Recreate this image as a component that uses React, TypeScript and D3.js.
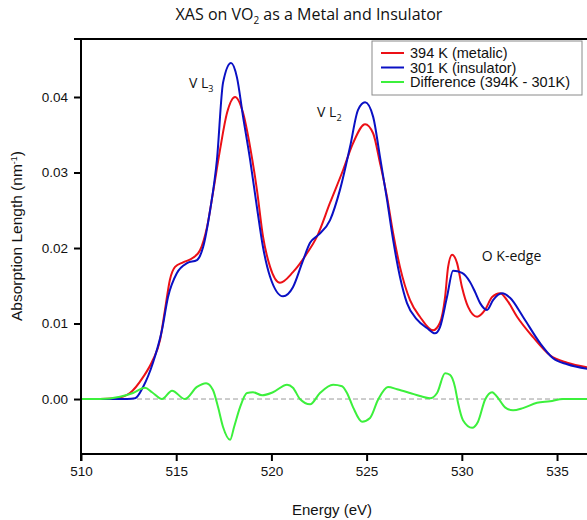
import React, { useEffect, useRef } from 'react';
import * as d3 from 'd3';

// values (energy in eV, absorption length in nm^-1)
const metalEnergy = [510, 511, 511.79, 512.57, 513.26, 513.78, 514.15, 514.41, 514.67, 514.94, 515.36, 515.88, 516.25, 516.62, 516.93, 517.3, 517.67, 518.09, 518.51, 518.88, 519.24, 519.56, 519.93, 520.45, 521.13, 521.87, 522.39, 523.08, 523.76, 524.29, 524.92, 525.34, 525.7, 526.07, 526.39, 526.75, 527.28, 527.8, 528.49, 528.85, 529.12, 529.28, 529.49, 529.75, 530.01, 530.33, 530.8, 531.22, 531.59, 532.01, 532.37, 532.9, 533.74, 534.63, 535.53, 536.58];
const metalAbs = [0, 0, 0.0001, 0.0008, 0.0029, 0.0052, 0.0078, 0.0118, 0.0158, 0.0175, 0.0181, 0.0187, 0.0197, 0.0228, 0.0273, 0.033, 0.0379, 0.04, 0.0379, 0.0334, 0.0277, 0.0215, 0.0175, 0.0154, 0.0168, 0.0193, 0.0215, 0.026, 0.0303, 0.0339, 0.0364, 0.0352, 0.0313, 0.0268, 0.022, 0.0175, 0.0131, 0.0109, 0.0091, 0.0101, 0.0135, 0.0175, 0.0191, 0.018, 0.0148, 0.0122, 0.0109, 0.0118, 0.0135, 0.014, 0.0131, 0.0109, 0.0082, 0.0058, 0.0048, 0.0042];

const insulatorEnergy = [510, 512.42, 512.84, 513.26, 513.78, 514.25, 514.57, 515.04, 515.57, 516.09, 516.41, 516.78, 517.14, 517.46, 517.88, 518.19, 518.51, 518.88, 519.24, 519.56, 519.93, 520.61, 521.13, 521.61, 522.03, 522.45, 523.08, 523.6, 524.13, 524.55, 524.92, 525.34, 525.7, 526.07, 526.39, 526.75, 527.12, 527.65, 528.17, 528.59, 528.85, 529.22, 529.54, 530.01, 530.43, 530.69, 530.96, 531.32, 531.64, 532.11, 532.53, 533.21, 534.11, 534.79, 535.53, 536.58];
const insulatorAbs = [0, 0, 0.0001, 0.0016, 0.0048, 0.0091, 0.0135, 0.0167, 0.018, 0.0184, 0.0201, 0.025, 0.0317, 0.0419, 0.0445, 0.0426, 0.0374, 0.0317, 0.0254, 0.0201, 0.0162, 0.0136, 0.0148, 0.018, 0.0207, 0.0217, 0.0237, 0.0277, 0.0334, 0.0383, 0.0393, 0.0374, 0.0321, 0.0264, 0.0211, 0.0162, 0.0127, 0.0105, 0.0094, 0.0087, 0.0095, 0.0135, 0.017, 0.0167, 0.0155, 0.0142, 0.0127, 0.0118, 0.0131, 0.014, 0.0134, 0.0109, 0.0074, 0.0054, 0.0046, 0.004];

const diffEnergy = [510, 511, 512.05, 512.73, 513.36, 513.73, 514.25, 514.78, 515.46, 516.09, 516.57, 516.93, 517.2, 517.46, 517.83, 518.04, 518.35, 518.72, 519.03, 519.51, 520.08, 520.82, 521.13, 521.5, 522.03, 522.55, 523.24, 523.71, 523.97, 524.29, 524.76, 525.18, 525.6, 526.12, 526.6, 527.28, 527.8, 528.33, 528.7, 529.12, 529.38, 529.64, 529.8, 530.06, 530.54, 530.85, 531.22, 531.59, 531.85, 532.27, 532.69, 533.21, 533.95, 534.63, 535.32, 536.58];
const diffAbs = [0, 0, 0.0003, 0.0008, 0.0015, 0.0009, 0, 0.0011, 0, 0.0016, 0.0021, 0.0012, -0.0011, -0.0037, -0.0054, -0.0037, -0.0011, 0.0008, 0.0009, 0.0005, 0.0009, 0.0019, 0.0015, 0, -0.0007, 0.0008, 0.0019, 0.0017, 0.0008, -0.0011, -0.003, -0.0025, -0.0001, 0.0016, 0.0013, 0.0008, 0.0004, 0.0001, 0.0008, 0.0034, 0.0032, 0.0016, -0.0005, -0.0028, -0.0038, -0.003, -0.0001, 0.0009, 0.0003, -0.0011, -0.0015, -0.0012, -0.0005, -0.0003, 0, 0];

const xTicks = [510, 515, 520, 525, 530, 535];
const yTicks = [0, 0.01, 0.02, 0.03, 0.04];
const legendLabels = ['394 K (metalic)', '301 K (insulator)', 'Difference (394K - 301K)'];
const seriesColors = ['#ec1016', '#0a10c4', '#3cf03c'];

const W = 587;
const H = 520;

const App = () => {
  const svgRef = useRef<SVGSVGElement>(null);

  useEffect(() => {
    const svg = d3.select(svgRef.current);
    svg.selectAll('*').remove();

    const left = 81, right = 587.5, top = 39, bottom = 454;
    const x = d3.scaleLinear().domain([510, 536.6]).range([left, right]);
    const y = d3.scaleLinear().domain([-0.00728, 0.04768]).range([bottom, top]);

    svg.append('clipPath').attr('id', 'plot-clip')
      .append('rect').attr('x', left).attr('y', top).attr('width', right - left).attr('height', bottom - top);

    // zero line
    svg.append('line')
      .attr('x1', left).attr('x2', right)
      .attr('y1', y(0)).attr('y2', y(0))
      .attr('stroke', '#9a9a9a').attr('stroke-width', 1).attr('stroke-dasharray', '5,3');

    const series = [
      { xs: metalEnergy, ys: metalAbs },
      { xs: insulatorEnergy, ys: insulatorAbs },
      { xs: diffEnergy, ys: diffAbs },
    ];

    const g = svg.append('g').attr('clip-path', 'url(#plot-clip)');
    series.forEach((s, i) => {
      const line = d3.line<number>()
        .x((_, k) => x(s.xs[k]))
        .y(d => y(d))
        .curve(d3.curveMonotoneX);
      g.append('path')
        .attr('d', line(s.ys))
        .attr('fill', 'none')
        .attr('stroke', seriesColors[i])
        .attr('stroke-width', 2)
        .attr('stroke-linejoin', 'round');
    });

    // frame: top border + axes
    svg.append('line').attr('x1', left).attr('x2', W).attr('y1', top).attr('y2', top)
      .attr('stroke', '#000').attr('stroke-width', 2);

    const xAxis = d3.axisBottom(x).tickValues(xTicks).tickSize(7).tickPadding(5).tickFormat(d3.format('d'));
    const xg = svg.append('g').attr('transform', `translate(0, ${bottom})`).call(xAxis);
    const yAxis = d3.axisLeft(y).tickValues(yTicks).tickSize(7).tickPadding(6).tickFormat(d3.format('.2f'));
    const yg = svg.append('g').attr('transform', `translate(${left}, 0)`).call(yAxis);

    [xg, yg].forEach(ax => {
      ax.select('.domain').attr('stroke-width', 2);
      ax.selectAll('.tick line').attr('stroke-width', 2);
      ax.selectAll('.tick text')
        .attr('font-family', '"Liberation Sans", Arial, sans-serif')
        .attr('font-size', 13.5).attr('fill', '#111');
    });
    xg.select('.domain').attr('d', `M${left},7V0H${right}`);
    yg.select('.domain').attr('d', `M-7,${top}H0V${bottom}`);

    // axis titles
    svg.append('text')
      .attr('x', 332).attr('y', 515)
      .attr('text-anchor', 'middle')
      .attr('font-family', '"Liberation Sans", Arial, sans-serif')
      .attr('font-size', 15).attr('fill', '#111')
      .text('Energy (eV)');

    const yl = svg.append('text')
      .attr('transform', 'translate(22, 236) rotate(-90)')
      .attr('text-anchor', 'middle')
      .attr('font-family', '"Liberation Sans", Arial, sans-serif')
      .attr('font-size', 15.5).attr('fill', '#111');
    yl.append('tspan').text('Absorption Length (nm');
    yl.append('tspan').attr('dy', -5).attr('font-size', 9).text('-1');
    yl.append('tspan').attr('dy', 5).text(')');

    // title
    const title = svg.append('text')
      .attr('x', 309).attr('y', 20)
      .attr('text-anchor', 'middle')
      .attr('font-family', '"Open Sans", sans-serif')
      .attr('font-size', 16).attr('fill', '#111');
    title.append('tspan').text('XAS on VO');
    title.append('tspan').attr('dy', 4).attr('font-size', 10).text('2');
    title.append('tspan').attr('dy', -4).text(' as a Metal and Insulator');

    // peak annotations
    const annotations = [
      { label: 'V L', sub: '3', xv: 515.67, yv: 0.0412 },
      { label: 'V L', sub: '2', xv: 522.4, yv: 0.03735 },
    ];
    annotations.forEach(a => {
      const t = svg.append('text')
        .attr('x', x(a.xv)).attr('y', y(a.yv))
        .attr('font-family', '"Open Sans", sans-serif')
        .attr('font-size', 14).attr('fill', '#111');
      t.append('tspan').text(a.label);
      t.append('tspan').attr('dy', 4).attr('font-size', 9).text(a.sub);
    });
    svg.append('text')
      .attr('x', x(531.05)).attr('y', y(0.0183))
      .attr('font-family', '"Open Sans", sans-serif')
      .attr('font-size', 14).attr('fill', '#111')
      .text('O K-edge');

    // legend
    const lg = svg.append('g').attr('transform', 'translate(372, 41)');
    lg.append('rect').attr('width', 210).attr('height', 54)
      .attr('fill', '#fff').attr('stroke', '#8a8a8a').attr('stroke-width', 1);
    legendLabels.forEach((lab, i) => {
      const yy = 12 + i * 14.5;
      lg.append('line').attr('x1', 9).attr('x2', 32).attr('y1', yy).attr('y2', yy)
        .attr('stroke', seriesColors[i]).attr('stroke-width', 2);
      lg.append('text').attr('x', 38).attr('y', yy + 5)
        .attr('font-family', '"Liberation Sans", Arial, sans-serif')
        .attr('font-size', 14.5).attr('fill', '#111')
        .text(lab);
    });
  }, []);

  return (
    <svg
      ref={svgRef}
      width={W}
      height={H}
      style={{ position: 'absolute', left: 0, top: 0, background: '#fff' }}
    />
  );
};

export default App;
